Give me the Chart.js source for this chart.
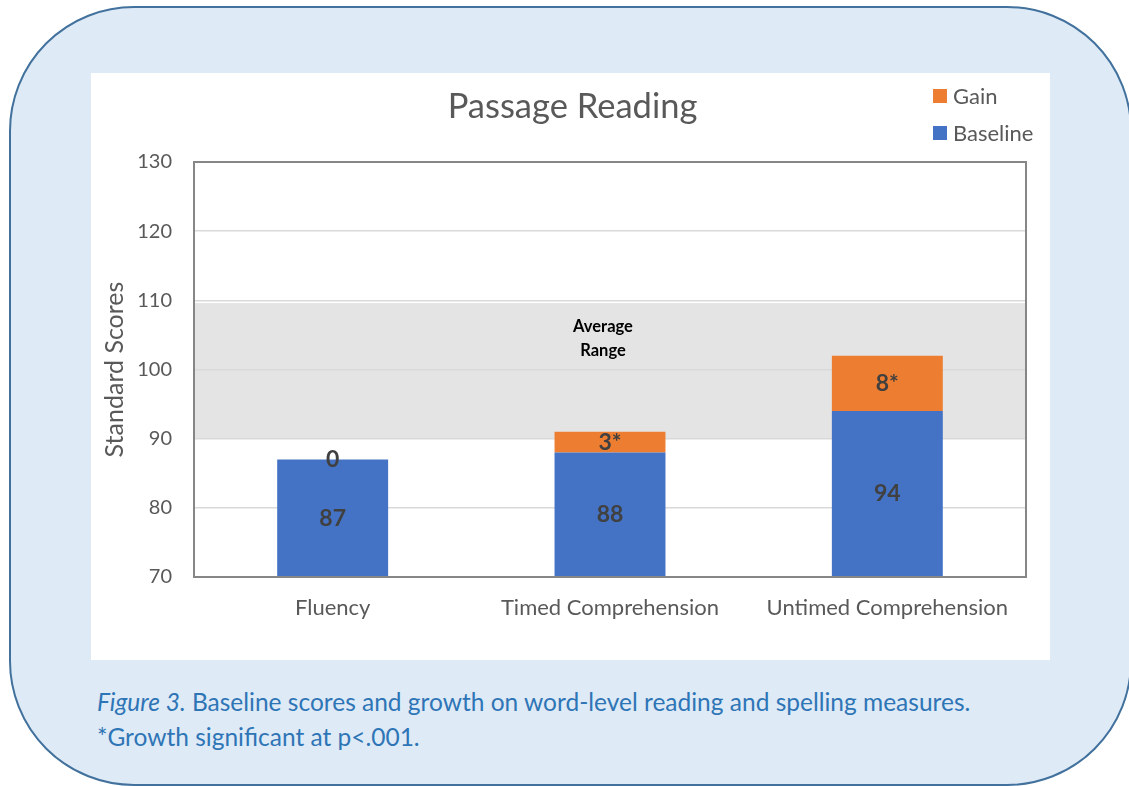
<!DOCTYPE html>
<html>
<head>
<meta charset="utf-8">
<script src="https://cdn.jsdelivr.net/npm/chart.js@4"></script>
<style>
  html, body { margin: 0; padding: 0; }
  body { width: 1129px; height: 786px; overflow: hidden; position: relative; background: #fff; font-family: Lato, sans-serif; }
  .frame {
    position: absolute; left: 9px; top: 6px; width: 1119px; height: 776px;
    border: 2px solid #41719c; border-radius: 125px; background: #deeaf6;
  }
  .panel { position: absolute; left: 91px; top: 73px; width: 959px; height: 587px; background: #fff; }
  .legend { position: absolute; left: 933px; top: 77px; font-size: 22px; color: #595959; }
  .legend div { height: 37px; display: flex; align-items: center; }
  .legend span { display: inline-block; width: 14px; height: 14px; margin-right: 6px; }
  .caption { position: absolute; left: 97px; top: 684px; font-size: 24.5px; line-height: 35px; color: #2e75b6; }
</style>
</head>
<body>
<div class="frame"></div>
<div class="panel"><canvas id="chart" width="959" height="587"></canvas></div>
<div class="legend" id="legend"></div>
<div class="caption"><i>Figure 3.</i> Baseline scores and growth on word-level reading and spelling measures.<br>*Growth significant at p&lt;.001.</div>
<script>
const categories = ['Fluency', 'Timed Comprehension', 'Untimed Comprehension'];
const baseline = [87, 88, 94];
const gain = [0, 3, 8];
const significant = [false, true, true];
const yTicks = [70, 80, 90, 100, 110, 120, 130];
const averageRange = [90, 109.6];
const averageLabel = ['Average', 'Range'];

const avgBand = {
  id: 'avgBand',
  beforeDraw(chart) {
    const { ctx, chartArea: a, scales: { y } } = chart;
    const top = y.getPixelForValue(averageRange[1]);
    const bottom = y.getPixelForValue(averageRange[0]);
    ctx.save();
    ctx.fillStyle = '#e4e4e4';
    ctx.fillRect(a.left, top, a.right - a.left, bottom - top);
    ctx.restore();
  },
  afterDraw(chart) {
    const { ctx, chartArea: a, scales: { y } } = chart;
    const top = y.getPixelForValue(averageRange[1]);
    ctx.save();
    ctx.fillStyle = '#000';
    ctx.font = 'bold 16.5px Lato';
    ctx.textAlign = 'center';
    ctx.textBaseline = 'middle';
    const cx = (a.left + a.right) / 2 - 7;
    averageLabel.forEach((t, i) => ctx.fillText(t, cx, top + 24 + i * 24));
    // plot border
    ctx.strokeStyle = '#868686';
    ctx.lineWidth = 2;
    ctx.strokeRect(a.left, a.top, a.right - a.left, a.bottom - a.top);
    ctx.restore();
  }
};

const barLabels = {
  id: 'barLabels',
  afterDatasetsDraw(chart) {
    const { ctx, scales: { x, y } } = chart;
    ctx.save();
    ctx.fillStyle = '#404040';
    ctx.font = 'bold 23px Lato';
    ctx.textAlign = 'center';
    ctx.textBaseline = 'middle';
    categories.forEach((c, i) => {
      const cx = x.getPixelForValue(i);
      const b0 = y.getPixelForValue(y.min);
      const b1 = y.getPixelForValue(baseline[i]);
      const g1 = y.getPixelForValue(baseline[i] + gain[i]);
      ctx.fillText(String(baseline[i]), cx, (b0 + b1) / 2);
      ctx.fillText(gain[i] + (significant[i] ? '*' : ''), cx, (b1 + g1) / 2);
    });
    ctx.restore();
  }
};

const chart = new Chart(document.getElementById('chart'), {
  type: 'bar',
  data: {
    labels: categories,
    datasets: [
      { label: 'Baseline', data: baseline, backgroundColor: '#4472c4', borderWidth: 0 },
      { label: 'Gain', data: gain, backgroundColor: '#ed7d31', borderWidth: 0 }
    ]
  },
  options: {
    responsive: false,
    animation: false,
    events: [],
    layout: { padding: { left: 28, right: 24, top: 0, bottom: 20.6 } },
    datasets: { bar: { barPercentage: 0.4, categoryPercentage: 1 } },
    plugins: {
      legend: { display: false },
      tooltip: { enabled: false },
      title: {
        display: true,
        text: 'Passage Reading',
        color: '#595959',
        font: { family: 'Lato', size: 34.5, weight: 'normal' },
        padding: { top: 13.3, bottom: 34.3 }
      }
    },
    scales: {
      x: {
        stacked: true,
        grid: { display: false, drawTicks: false },
        border: { display: false },
        ticks: { color: '#595959', font: { family: 'Lato', size: 22 }, padding: 18, maxRotation: 0 }
      },
      y: {
        stacked: true,
        min: yTicks[0],
        max: yTicks[yTicks.length - 1],
        afterBuildTicks(scale) { scale.ticks = yTicks.map(v => ({ value: v })); },
        afterFit(scale) { scale.width = 75; },
        grid: { color: '#d9d9d9', lineWidth: 1.5, drawTicks: false },
        border: { display: false },
        ticks: { color: '#595959', font: { family: 'Lato', size: 20 }, padding: 22 },
        title: {
          display: true,
          text: 'Standard Scores',
          color: '#595959',
          font: { family: 'Lato', size: 25 },
          padding: { top: -19, bottom: 0 }
        }
      }
    }
  },
  plugins: [avgBand, barLabels]
});

// legend, Gain listed above Baseline
const legendEl = document.getElementById('legend');
chart.data.datasets.slice().reverse().forEach(ds => {
  const row = document.createElement('div');
  row.innerHTML = '<span style="background:' + ds.backgroundColor + '"></span>' + ds.label;
  legendEl.appendChild(row);
});
</script>
</body>
</html>
